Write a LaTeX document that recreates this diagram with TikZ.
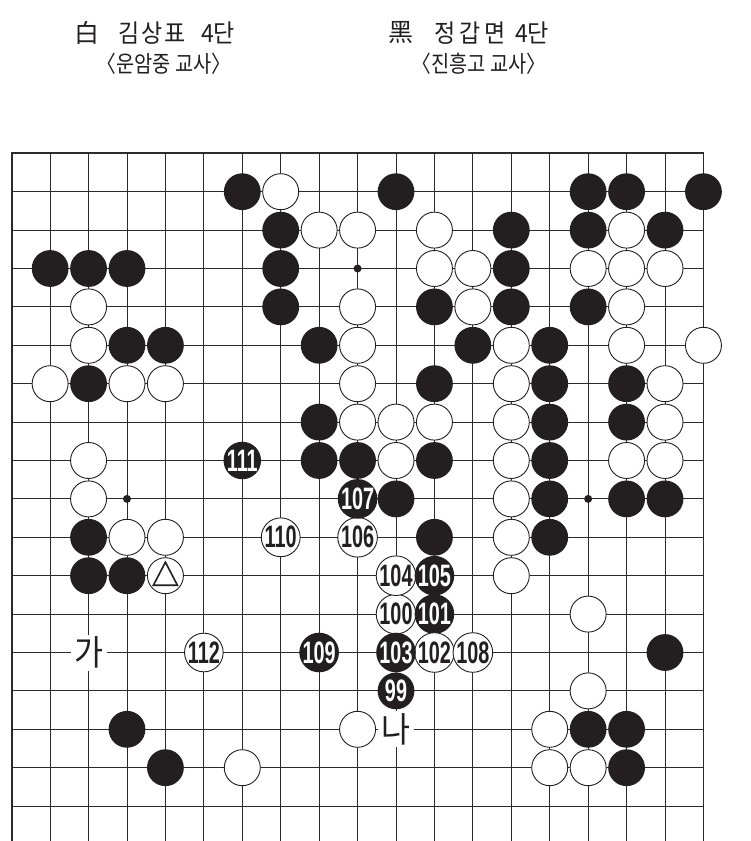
\documentclass[tikz,border=0pt]{standalone}
\usepackage{fontspec}
\setmainfont{Liberation Sans}
\newfontfamily\kr{Noto Sans CJK KR}
\newfontfamily\numf{Liberation Sans}
\definecolor{stoneblack}{HTML}{231F20}
\definecolor{gridcol}{HTML}{2A2A2A}
\newcommand\nm[1]{\scalebox{0.64}[1]{#1}}
\newcommand\hx[1]{\scalebox{0.86}[1]{#1}}
\newcommand\hy[1]{\scalebox{0.92}[1]{#1}}
\begin{document}
\begin{tikzpicture}[x=1pt,y=-1pt,
  bst/.style={circle,fill=stoneblack,minimum size=36.8pt,inner sep=0pt},
  wst/.style={circle,fill=white,draw=stoneblack,line width=0.9pt,minimum size=36pt,inner sep=0pt},
  numb/.style={bst,text=white,font=\numf\bfseries\fontsize{31}{31}\selectfont},
  numw/.style={wst,text=stoneblack,font=\numf\bfseries\fontsize{31}{31}\selectfont},
  gridline/.style={draw=gridcol,line width=0.9pt},
  edgeline/.style={draw=gridcol,line width=1.8pt},
  star/.style={circle,fill=stoneblack,minimum size=8pt,inner sep=0pt},
  marklabel/.style={fill=white,inner sep=0pt,minimum width=36pt,text height=31pt,text depth=5pt,font=\kr\fontsize{35}{35}\selectfont,text=stoneblack},
  head/.style={font=\kr\fontsize{25}{25}\selectfont,text=stoneblack,inner sep=0pt},
  head2/.style={font=\kr\fontsize{23}{23}\selectfont,text=stoneblack,inner sep=0pt}]
\useasboundingbox (0,0) rectangle (751,841);
\fill[white] (0,0) rectangle (751,841);
% header
\node[head] (wcol) at (86.5,33) {白};
\node[head] (wname) at (152,33) {\hy{김\hspace{2pt}상\hspace{2pt}표}};
\node[head] (wrank) at (218,33) {\hy{4단}};
\node[head2] (wschool) at (164,64) {\hx{〈운암중 교사〉}};
\node[head] (bcol) at (400.5,33) {黑};
\node[head] (bname) at (470,33) {\hy{정\hspace{4pt}갑\hspace{4pt}면}};
\node[head] (brank) at (532,33) {\hy{4단}};
\node[head2] (bschool) at (479,64) {\hx{〈진흥고 교사〉}};
% grid
\begin{scope}
\clip (0,0) rectangle (751,841);
\foreach \c in {1,...,17}
  \draw[gridline] ({11.7+38.43*\c},153.3) -- ({11.7+38.43*\c},845);
\foreach \r in {1,...,17}
  \draw[gridline] (11.7,{153.3+38.4*\r}) -- (703.4,{153.3+38.4*\r});
\draw[edgeline] (11.7,845) -- (11.7,153.3) -- (703.4,153.3) -- (703.4,845);
\end{scope}
% star points
\foreach \c/\r in {9/3,3/9,15/9}
  \node[star] (st\c-\r) at ({11.7+38.43*\c},{153.3+38.4*\r}) {};
% black stones
\foreach \c/\r in {6/1,10/1,15/1,16/1,18/1,
  7/2,13/2,15/2,17/2,
  1/3,2/3,3/3,7/3,13/3,
  7/4,11/4,13/4,15/4,
  3/5,4/5,8/5,12/5,14/5,
  2/6,11/6,14/6,16/6,
  8/7,14/7,16/7,
  8/8,9/8,11/8,14/8,
  10/9,14/9,16/9,17/9,
  2/10,11/10,14/10,
  2/11,3/11,
  17/13,
  3/15,15/15,16/15,
  4/16,16/16}
  \node[bst] (b\c-\r) at ({11.7+38.43*\c},{153.3+38.4*\r}) {};
% white stones
\foreach \c/\r in {7/1,
  8/2,9/2,11/2,16/2,
  11/3,12/3,15/3,16/3,17/3,
  2/4,9/4,12/4,16/4,
  2/5,9/5,13/5,16/5,18/5,
  1/6,3/6,4/6,9/6,13/6,17/6,
  9/7,10/7,11/7,13/7,17/7,
  2/8,10/8,13/8,16/8,17/8,
  2/9,13/9,
  3/10,4/10,13/10,
  13/11,
  15/12,
  15/14,
  9/15,14/15,
  6/16,14/16,15/16}
  \node[wst] (w\c-\r) at ({11.7+38.43*\c},{153.3+38.4*\r}) {};
% marked stone
\node[wst] (w4-11) at ({11.7+38.43*4},{153.3+38.4*11}) {};
\draw[draw=stoneblack,line width=1.6pt,line join=miter]
  ([yshift=13.5pt]w4-11.center) -- ([xshift=-12pt,yshift=-9.5pt]w4-11.center)
  -- ([xshift=12pt,yshift=-9.5pt]w4-11.center) -- cycle;
% numbered moves
\node[numb] (m99) at ({11.7+38.43*10},{153.3+38.4*14}) {\nm{99}};
\node[numw] (m100) at ({11.7+38.43*10},{153.3+38.4*12}) {\nm{100}};
\node[numb] (m101) at ({11.7+38.43*11},{153.3+38.4*12}) {\nm{101}};
\node[numw] (m102) at ({11.7+38.43*11},{153.3+38.4*13}) {\nm{102}};
\node[numb] (m103) at ({11.7+38.43*10},{153.3+38.4*13}) {\nm{103}};
\node[numw] (m104) at ({11.7+38.43*10},{153.3+38.4*11}) {\nm{104}};
\node[numb] (m105) at ({11.7+38.43*11},{153.3+38.4*11}) {\nm{105}};
\node[numw] (m106) at ({11.7+38.43*9},{153.3+38.4*10}) {\nm{106}};
\node[numb] (m107) at ({11.7+38.43*9},{153.3+38.4*9}) {\nm{107}};
\node[numw] (m108) at ({11.7+38.43*12},{153.3+38.4*13}) {\nm{108}};
\node[numb] (m109) at ({11.7+38.43*8},{153.3+38.4*13}) {\nm{109}};
\node[numw] (m110) at ({11.7+38.43*7},{153.3+38.4*10}) {\nm{110}};
\node[numb] (m111) at ({11.7+38.43*6},{153.3+38.4*8}) {\nm{111}};
\node[numw] (m112) at ({11.7+38.43*5},{153.3+38.4*13}) {\nm{112}};
% point labels
\node[marklabel] (ga) at ({11.7+38.43*2},{153.3+38.4*13}) {\scalebox{0.9}[1]{가}};
\node[marklabel] (na) at ({11.7+38.43*10},{153.3+38.4*15}) {\scalebox{0.9}[1]{나}};
\end{tikzpicture}
\end{document}
